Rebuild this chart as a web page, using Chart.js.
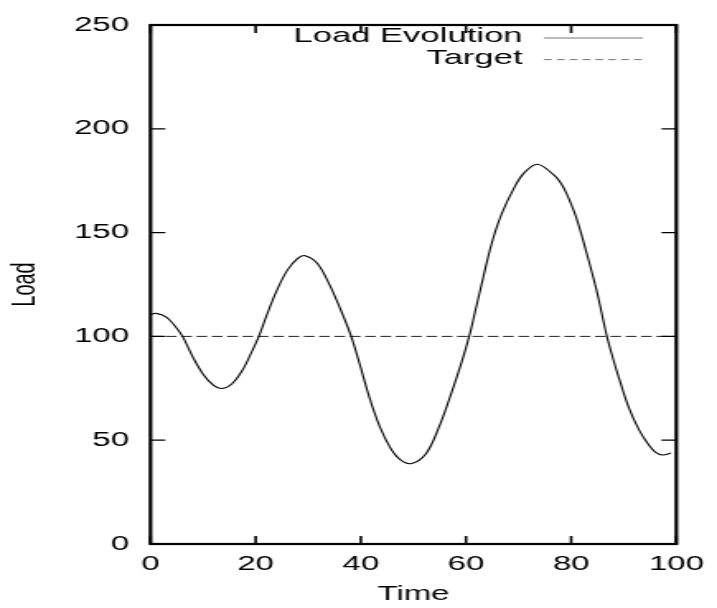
<!DOCTYPE html>
<html><head><meta charset="utf-8">
<script src="https://cdn.jsdelivr.net/npm/chart.js@4"></script>
<style>html,body{margin:0;padding:0;background:#fff;overflow:hidden}canvas{display:block}</style>
</head><body>
<canvas id="c" width="435" height="608" style="width:717px;height:608px"></canvas>
<script>
// ---- data ----
const times = [0, 1.1, 3, 4.5, 6.1, 8, 10, 12, 13.6, 15.5, 17.5, 19, 20.6, 22, 24, 26, 28, 29.4,
  31.7, 34.2, 36.1, 37.2, 38.3, 39.8, 41.7, 43.6, 45.5, 47.3, 49.5, 52.3, 54.8, 57.3, 59.2, 60.6, 61.7,
  63.0, 64.8, 66.7, 69.2, 71.1, 73.6, 76.7, 78, 79.2, 81.0, 82.9, 84.8, 86.8, 88, 88.9, 91, 93, 94.8, 96, 97.4, 99];
const loads = [110.6, 111.1, 109.3, 105.5, 100, 90.3, 81.8, 76.4, 74.9, 77.2, 83.8, 91.2, 100, 109.5, 122, 131.8, 137.6, 138.9,
  135.2, 124.1, 113.2, 106.5, 99.0, 86.5, 70.0, 56.5, 46.8, 41.0, 38.7, 43.2, 55.9, 73.3, 87.8, 100, 111.5,
  125.5, 144.0, 158.5, 171.8, 178.9, 182.9, 177.8, 174.0, 168.4, 157.0, 140.5, 122.5, 100, 89.0, 81.5, 65.4, 54.5, 47.6, 44.3, 42.9, 43.8];
const targetTimes = [0, 100];
const targetLoads = [100, 100];
const xTickValues = [0, 20, 40, 60, 80, 100];
const yTickValues = [0, 50, 100, 150, 200, 250];
const seriesLabels = ['Load Evolution', 'Target'];
const xTitle = 'Time';
const yTitle = 'Load';

const FONT = '"Liberation Sans", Arial, Helvetica, sans-serif';
Chart.defaults.color = '#000';
Chart.defaults.font.family = FONT;

const toPts = (xs, ys) => xs.map((x, i) => ({x: x, y: ys[i]}));

const framePlugin = {
  id: 'frame',
  afterDatasetsDraw(chart) {
    const {ctx, chartArea: a, scales: {x, y}} = chart;
    ctx.save();
    ctx.strokeStyle = '#000';
    ctx.lineWidth = 1.6;
    x.ticks.forEach(t => {
      const px = x.getPixelForValue(t.value);
      ctx.beginPath();
      ctx.moveTo(px, a.bottom); ctx.lineTo(px, a.bottom - 8);
      ctx.moveTo(px, a.top); ctx.lineTo(px, a.top + 8);
      ctx.stroke();
    });
    ctx.lineWidth = 1.2;
    y.ticks.forEach(t => {
      const py = y.getPixelForValue(t.value);
      ctx.beginPath();
      ctx.moveTo(a.left, py); ctx.lineTo(a.left + 9, py);
      ctx.moveTo(a.right, py); ctx.lineTo(a.right - 9, py);
      ctx.stroke();
    });
    ctx.lineWidth = 2.2;
    ctx.strokeRect(a.left, a.top, a.right - a.left, a.bottom - a.top);
    ctx.restore();
  }
};

const legendPlugin = {
  id: 'keyBox',
  afterDraw(chart) {
    const ctx = chart.ctx;
    const rows = chart.data.datasets.map((d, i) => ({label: d.label, y: 36.5 + i * 21.6}));
    ctx.save();
    ctx.font = '21px ' + FONT;
    ctx.fillStyle = '#000';
    ctx.textAlign = 'right';
    ctx.textBaseline = 'middle';
    rows.forEach((r, i) => {
      ctx.fillText(r.label, 317, r.y);
      ctx.beginPath();
      ctx.strokeStyle = '#777';
      ctx.lineWidth = 1;
      ctx.setLineDash(i === 0 ? [] : [4.8, 3]);
      ctx.moveTo(330, r.y + 1.5); ctx.lineTo(390, r.y + 1.5);
      ctx.stroke();
    });
    ctx.restore();
  }
};

new Chart(document.getElementById('c'), {
  type: 'line',
  data: {
    datasets: [
      {label: seriesLabels[0], data: toPts(times, loads), borderColor: '#000', borderWidth: 1.1,
       pointRadius: 0, tension: 0.35, fill: false},
      {label: seriesLabels[1], data: toPts(targetTimes, targetLoads), borderColor: '#222', borderWidth: 1,
       borderDash: [6.5, 2.8], pointRadius: 0, tension: 0, fill: false}
    ]
  },
  options: {
    responsive: false,
    devicePixelRatio: 1,
    animation: false,
    layout: {padding: {top: 19, right: 20, left: 0, bottom: 0}},
    plugins: {legend: {display: false}, tooltip: {enabled: false}},
    scales: {
      x: {
        type: 'linear', min: 0, max: 100,
        afterBuildTicks: s => { s.ticks = xTickValues.map(v => ({value: v})); },
        afterFit: s => { s.height = 64; },
        grid: {display: false, drawTicks: false},
        border: {display: false},
        ticks: {padding: 8, font: {size: 20}, color: '#000', maxRotation: 0},
        title: {display: true, text: xTitle, font: {size: 20}, color: '#000', padding: {top: 0, bottom: 2}}
      },
      y: {
        type: 'linear', min: 0, max: 250,
        afterBuildTicks: s => { s.ticks = yTickValues.map(v => ({value: v})); },
        afterFit: s => { s.width = 91.3; },
        grid: {display: false, drawTicks: false},
        border: {display: false},
        ticks: {padding: 13, font: {size: 20}, color: '#000'},
        title: {display: true, text: yTitle, font: {size: 20}, color: '#000', padding: {top: 3, bottom: 0}}
      }
    }
  },
  plugins: [framePlugin, legendPlugin]
});
</script>
</body></html>
